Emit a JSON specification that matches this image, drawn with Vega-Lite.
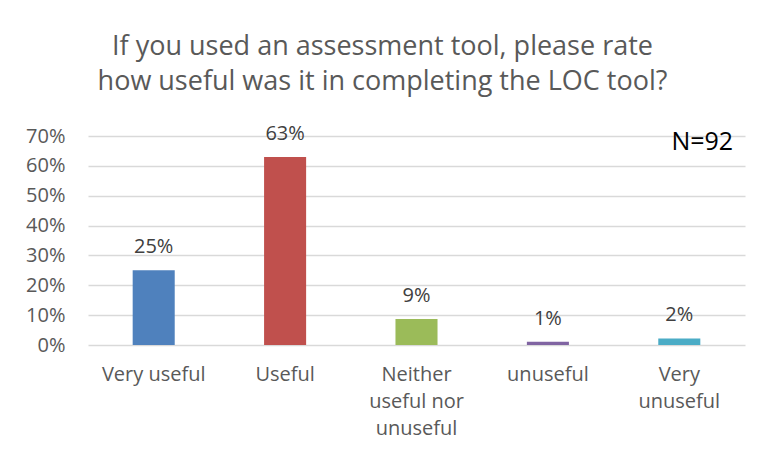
{
  "$schema": "https://vega.github.io/schema/vega-lite/v6.json",
  "width": 657,
  "height": 209,
  "autosize": {"type": "none"},
  "padding": {"left": 88, "top": 136, "right": 20, "bottom": 121},
  "background": "white",
  "title": {
    "text": ["If you used an assessment tool, please rate", "how useful was it in completing the LOC tool?"],
    "font": "Open Sans",
    "fontSize": 27,
    "fontWeight": "normal",
    "color": "#595959",
    "lineHeight": 35,
    "anchor": "middle",
    "dx": -34,
    "offset": 28
  },
  "config": {
    "view": {"stroke": null},
    "font": "Open Sans"
  },
  "data": {
    "values": [
      {"category": "Very useful", "value": 0.25, "label": "25%"},
      {"category": "Useful", "value": 0.63, "label": "63%"},
      {"category": "Neither useful nor unuseful", "value": 0.087, "label": "9%"},
      {"category": "unuseful", "value": 0.011, "label": "1%"},
      {"category": "Very unuseful", "value": 0.022, "label": "2%"}
    ]
  },
  "encoding": {
    "x": {
      "field": "category",
      "type": "nominal",
      "sort": null,
      "scale": {"paddingInner": 0.68, "paddingOuter": 0.34},
      "axis": {
        "title": null,
        "labelAngle": 0,
        "labelFont": "Open Sans",
        "labelFontSize": 20,
        "labelColor": "#595959",
        "labelPadding": 19,
        "labelLineHeight": 27,
        "labelBaseline": "top",
        "labelExpr": "datum.value == 'Neither useful nor unuseful' ? ['Neither', 'useful nor', 'unuseful'] : datum.value == 'Very unuseful' ? ['Very', 'unuseful'] : datum.value",
        "ticks": false,
        "domain": false
      }
    },
    "y": {
      "field": "value",
      "type": "quantitative",
      "scale": {"domain": [0, 0.7], "nice": false},
      "axis": {
        "title": null,
        "format": ".0%",
        "values": [0, 0.1, 0.2, 0.3, 0.4, 0.5, 0.6, 0.7],
        "labelOverlap": false,
        "labelFont": "Open Sans",
        "labelFontSize": 20,
        "labelColor": "#595959",
        "labelPadding": 23,
        "ticks": false,
        "domain": false,
        "grid": true,
        "gridColor": "#d9d9d9",
        "gridWidth": 1.3
      }
    }
  },
  "layer": [
    {
      "mark": {"type": "bar"},
      "encoding": {
        "color": {
          "field": "category",
          "type": "nominal",
          "sort": null,
          "scale": {"range": ["#4F81BD", "#C0504D", "#9BBB59", "#8064A2", "#4BACC6"]},
          "legend": null
        }
      }
    },
    {
      "mark": {"type": "text", "baseline": "bottom", "dy": -13, "fontSize": 20, "font": "Open Sans", "color": "#404040"},
      "encoding": {
        "text": {"field": "label"}
      }
    },
    {
      "data": {"values": [{"category": "Very unuseful", "value": 0.7, "note": "N=92"}]},
      "mark": {"type": "text", "baseline": "top", "align": "center", "dx": 23, "dy": -6, "fontSize": 25, "font": "Open Sans", "color": "#000000"},
      "encoding": {
        "text": {"field": "note"}
      }
    }
  ]
}
